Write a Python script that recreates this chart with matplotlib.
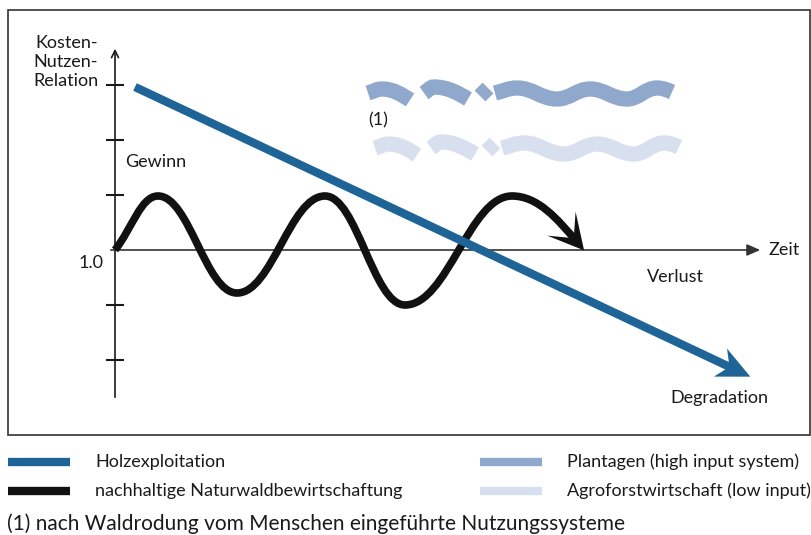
import numpy as np
import matplotlib
matplotlib.use('Agg')
import matplotlib.pyplot as plt
from matplotlib.path import Path
from matplotlib.patches import FancyArrowPatch, PathPatch, Rectangle, Polygon

plt.rcParams['font.family'] = ['Lato', 'DejaVu Sans']

# schematic, x = Zeit, y = Kosten-Nutzen-Relation measured from the 1.0 line
holz_x = [20, 619]
holz_y = [163, -119]

# extrema of the sustainable curve, last point is where the arrow head sits
natur_x = [0, 43, 122, 210, 290, 397, 462]
natur_y = [0, 54, -43, 54, -55, 54, 8]

# plantagen band, broken into pieces
plant_x = [[253, 267, 295], [309, 319, 353], [365, 373],
           [380, 402, 442, 475, 512, 542, 557]]
plant_y = [[157, 161, 150], [157, 163, 151], [154, 162],
           [157, 162, 151, 161, 151, 162, 158]]
# agroforst band has the same shape, lower and a bit to the right
agro_shift = (7, -55)

ytick_vals = [165, 110, 55, -55, -110]

legend_labels = ['Holzexploitation', 'nachhaltige Naturwaldbewirtschaftung',
                 'Plantagen (high input system)', 'Agroforstwirtschaft (low input)']

c_holz = '#1e6496'
c_natur = '#111111'
c_plant = '#8fa8cc'
c_agro = '#d8dfee'
c_txt = '#1a1a1a'
c_axis = '#333333'
FS = 13


def smooth_path(xs, ys):
	# bezier through the points, flat tangent at the extrema
	verts = [(xs[0], ys[0])]
	codes = [Path.MOVETO]
	n = len(xs)
	for i in range(n - 1):
		x0, y0, x1, y1 = xs[i], ys[i], xs[i + 1], ys[i + 1]
		dx, dy = x1 - x0, y1 - y0
		if n == 2:
			c1 = (x0 + dx / 3, y0 + dy / 3)
			c2 = (x1 - dx / 3, y1 - dy / 3)
		else:
			c1 = (x0 + 0.4 * dx, y0 + 0.4 * dy) if i == 0 else (x0 + 0.4 * dx, y0)
			c2 = (x1 - 0.3 * dx, y1 - 0.5 * dy) if i == n - 2 else (x1 - 0.4 * dx, y1)
		verts += [c1, c2, (x1, y1)]
		codes += [Path.CURVE4] * 3
	return Path(verts, codes)


def stealth_head(ax, x, y, ux, uy, length, back, half_w, color):
	# concave arrow head at the end of a shaft, sizes in pixels (1 data unit = 1 px)
	n = np.hypot(ux, uy)
	ux, uy = ux / n, uy / n
	s = 5
	local = np.array([(length - s, 0), (-s - back, half_w), (-s, 0), (-s - back, -half_w)])
	pts = np.column_stack([x + local[:, 0] * ux - local[:, 1] * uy,
	                       y + local[:, 0] * uy + local[:, 1] * ux])
	ax.add_patch(Polygon(pts, closed=True, fc=color, ec='none', zorder=5))


fig = plt.figure(figsize=(8.11, 5.35), dpi=100)
ax = fig.add_axes([0, 0, 1, 1])
ax.set_xlim(-115, 696)
ax.set_ylim(-285, 250)
ax.axis('off')

# frame
ax.add_patch(Rectangle((-107, -185), 802, 425, fill=False, lw=1.2, ec=c_axis))

# axes
ax.add_patch(FancyArrowPatch((0, -150), (0, 204), arrowstyle='->,head_length=5,head_width=2.5',
                             lw=1.2, color=c_txt, mutation_scale=1))
ax.add_patch(FancyArrowPatch((-7, 0), (648, 0), arrowstyle='-|>,head_length=8,head_width=3.5',
                             lw=1.2, color=c_axis, mutation_scale=1))
for v in ytick_vals:
	ax.plot([-8, 8], [v, v], color=c_txt, lw=1.5)

# bands
for xs, ys in zip(plant_x, plant_y):
	ax.add_patch(PathPatch(smooth_path(xs, ys), fill=False, lw=11, ec=c_plant, capstyle='butt'))
	ax.add_patch(PathPatch(smooth_path([x + agro_shift[0] for x in xs], [y + agro_shift[1] for y in ys]),
	                       fill=False, lw=11, ec=c_agro, capstyle='butt'))

# sustainable management
npath = smooth_path(natur_x, natur_y)
ax.add_patch(PathPatch(npath, fill=False, lw=5.5, ec=c_natur, capstyle='butt'))
ex, ey = npath.vertices[-1]
cx, cy = npath.vertices[-2]
stealth_head(ax, ex, ey, ex - cx, ey - cy, 16, 19, 18.5, c_natur)

# wood exploitation
ax.plot(holz_x, holz_y, color=c_holz, lw=6, solid_capstyle='butt')
stealth_head(ax, holz_x[1], holz_y[1], holz_x[1] - holz_x[0], holz_y[1] - holz_y[0],
             23, 10, 15.5, c_holz)

# labels
ax.text(-17, 188, 'Kosten-\nNutzen-\nRelation', ha='right', va='center', fontsize=FS,
        color=c_txt, linespacing=1.25)
ax.text(-11, -13, '1.0', ha='right', va='center', fontsize=FS, color=c_txt)
ax.text(10, 88, 'Gewinn', ha='left', va='center', fontsize=FS, color=c_txt)
ax.text(532, -27, 'Verlust', ha='left', va='center', fontsize=FS, color=c_txt)
ax.text(653, 0, 'Zeit', ha='left', va='center', fontsize=FS, color=c_txt)
ax.text(555, -148, 'Degradation', ha='left', va='center', fontsize=FS, color=c_txt)
ax.text(253, 130, '(1)', ha='left', va='center', fontsize=FS, color=c_txt)


# legend below the frame, placed in pixels
def fx(px):
	return px / 811.0


def fy(py):
	return 1 - py / 535.0


leg_colors = [c_holz, c_natur, c_plant, c_agro]
leg_pos = [(8, 462), (8, 491), (480, 462), (480, 491)]
for lab, col, (lx, ly) in zip(legend_labels, leg_colors, leg_pos):
	ax.plot([fx(lx), fx(lx + 62)], [fy(ly), fy(ly)], color=col, lw=6,
	        solid_capstyle='butt', transform=ax.transAxes)
	ax.text(fx(lx + 87), fy(ly), lab, ha='left', va='center', fontsize=FS,
	        color=c_txt, transform=ax.transAxes)
ax.text(fx(7), fy(524), '(1) nach Waldrodung vom Menschen eingeführte Nutzungssysteme',
        ha='left', va='center', fontsize=15, color=c_txt, transform=ax.transAxes)

fig.savefig('out.png', dpi=100)
